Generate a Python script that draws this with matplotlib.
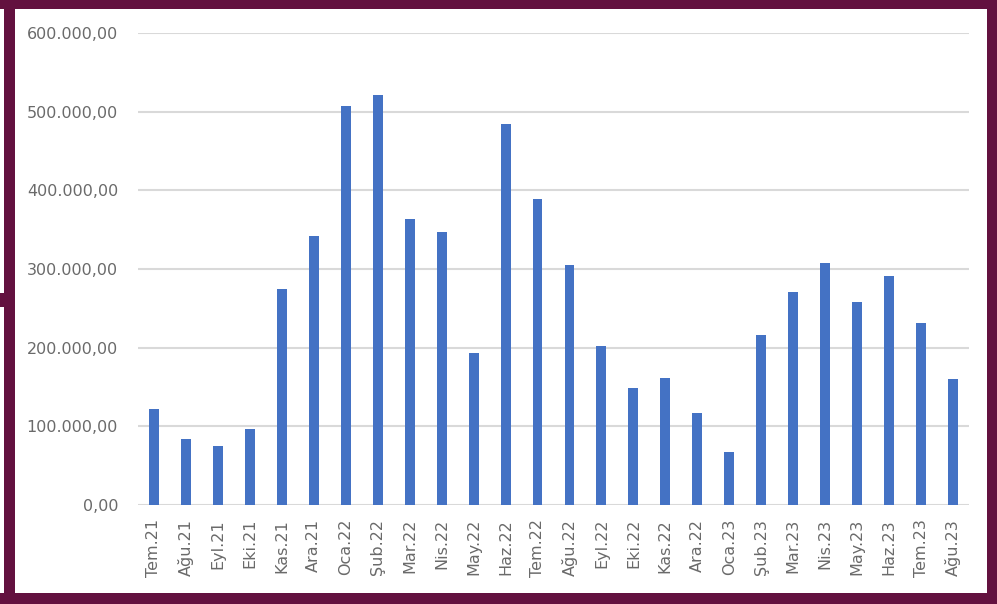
import matplotlib
matplotlib.use("Agg")
import matplotlib.pyplot as plt
from matplotlib.patches import Rectangle
from matplotlib.ticker import FuncFormatter

months = ["Tem.21", "Ağu.21", "Eyl.21", "Eki.21", "Kas.21", "Ara.21",
          "Oca.22", "Şub.22", "Mar.22", "Nis.22", "May.22", "Haz.22",
          "Tem.22", "Ağu.22", "Eyl.22", "Eki.22", "Kas.22", "Ara.22",
          "Oca.23", "Şub.23", "Mar.23", "Nis.23", "May.23", "Haz.23",
          "Tem.23", "Ağu.23"]
values = [122000, 84000, 75000, 97000, 275000, 342000,
          507000, 521000, 363000, 347000, 193000, 484000,
          389000, 305000, 202000, 149000, 162000, 117000,
          67000, 216000, 271000, 308000, 258000, 291000,
          231000, 160000]
yticks = [0, 100000, 200000, 300000, 400000, 500000, 600000]

W, H = 997, 604
fig = plt.figure(figsize=(W / 100, H / 100), dpi=100)
fig.patch.set_facecolor("white")

purple = "#63113F"
def band(x0, y0, x1, y1):
    # pixel coords with origin top-left
    fig.patches.append(Rectangle((x0 / W, 1 - y1 / H), (x1 - x0) / W, (y1 - y0) / H,
                                 transform=fig.transFigure, facecolor=purple,
                                 edgecolor="none", zorder=10))
band(0, 0, W, 9)
band(4, 0, 15, H)
band(987, 0, W, H)
band(0, 593, W, H)
band(0, 293, 4, 307)

left, right, top, bottom = 138, 969, 33, 505
ax = fig.add_axes([left / W, 1 - bottom / H, (right - left) / W, (bottom - top) / H])

x = list(range(len(months)))
ax.bar(x, values, width=0.31, color="#4472C4", zorder=3)
ax.set_xlim(-0.5, len(months) - 0.5)
ax.set_ylim(0, 600000)
ax.set_yticks(yticks)

def fmt(v, pos):
    s = f"{v:,.2f}"
    return s.replace(",", "X").replace(".", ",").replace("X", ".")
ax.yaxis.set_major_formatter(FuncFormatter(fmt))

ax.set_xticks(x)
ax.set_xticklabels(months, rotation=90, ha="center", va="top")

ax.grid(axis="y", color="#D9D9D9", linewidth=1.5, zorder=0)
for s in ax.spines.values():
    s.set_visible(False)
ax.tick_params(axis="both", length=0, labelsize=11.5, colors="#6A6A6A")
ax.tick_params(axis="y", pad=14.4)
ax.tick_params(axis="x", pad=10)

fig.savefig("out.png", dpi=100, facecolor="white")
